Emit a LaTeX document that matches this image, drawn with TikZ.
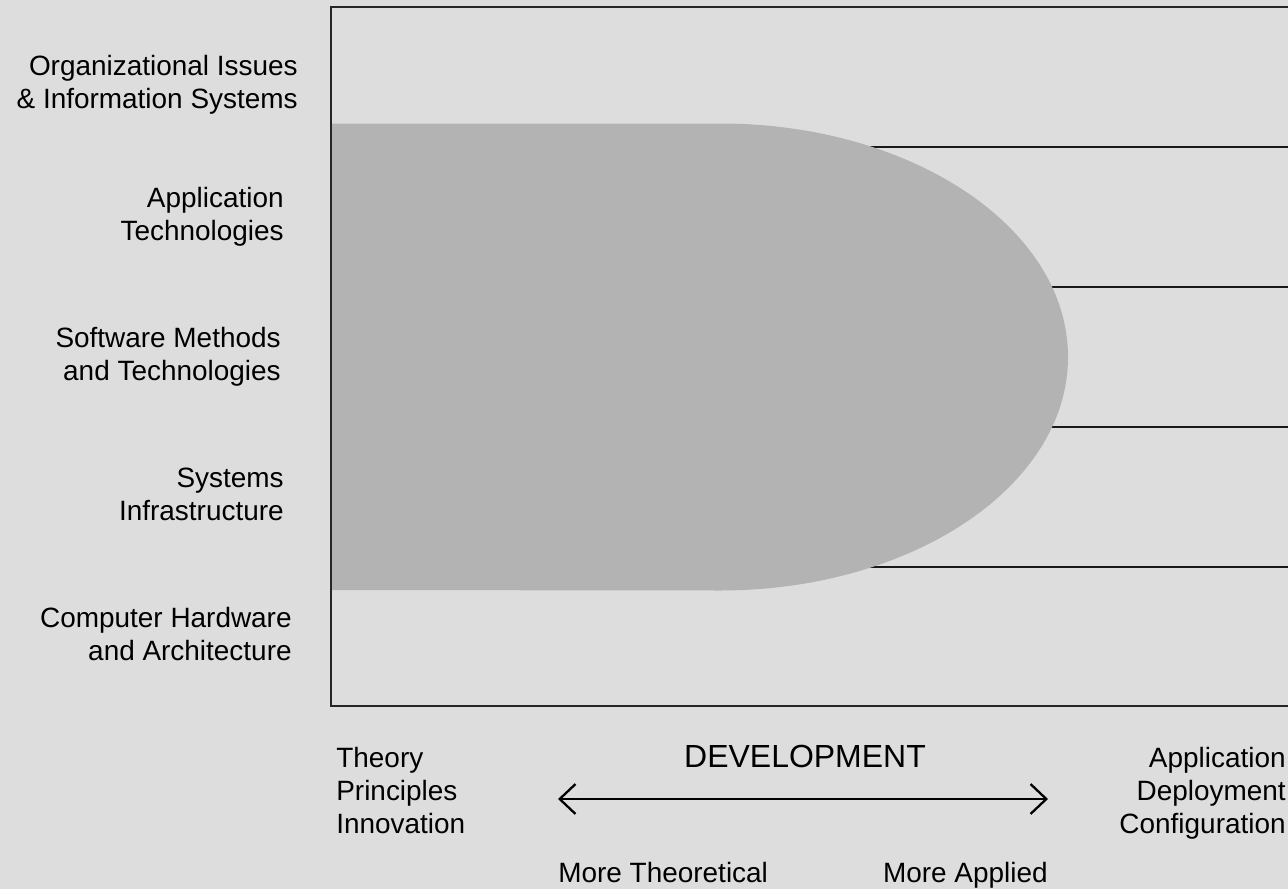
\documentclass[tikz,border=0pt]{standalone}
\usepackage{fontspec}
\setmainfont{Liberation Sans}
\usetikzlibrary{arrows.meta}
\definecolor{bg}{RGB}{221,221,221}
\definecolor{blob}{RGB}{179,179,179}
\tikzset{
  lbl/.style={inner sep=0pt, font=\fontsize{15.9}{18.6}\selectfont},
  rowline/.style={line width=0.85pt, color=black!90},
}

\begin{document}
\begin{tikzpicture}[x=0.02cm,y=-0.02cm]
\useasboundingbox[fill=bg] (0,0) rectangle (1288,889);

% frame corners
\coordinate (A) at (1288,7);
\coordinate (B) at (331,7);
\coordinate (C) at (331,706);
\coordinate (D) at (1288,706);

% row separators, drawn under the blob
\foreach \y in {147,287,427,567}
  \draw[rowline] (331,\y) -- (1288,\y);

% the grey blob
\fill[blob] (331,123.5) -- (720,123.5)
  arc[start angle=-90, end angle=90, x radius=348, y radius=233.5]
  -- (331,590) -- cycle;

\draw[line width=1.1pt, color=black!85] (A) -- (B) -- (C) -- (D);

% row labels (base = last line)
\node[lbl, align=right, anchor=base east] (org) at (298,108) {Organizational Issues\\ \& Information Systems};
\node[lbl, align=right, anchor=base east] (app) at (284,240) {Application\\ Technologies};
\node[lbl, align=right, anchor=base east] (soft) at (281,380) {Software Methods\\ and Technologies};
\node[lbl, align=right, anchor=base east] (sys) at (284,520) {Systems\\ Infrastructure};
\node[lbl, align=right, anchor=base east] (hw) at (292,660) {Computer Hardware\\ and Architecture};

% axis below
\node[lbl, align=left, anchor=base west] (theo) at (336,833) {Theory\\ Principles\\ Innovation};
\node[lbl, align=right, anchor=base east] (appl) at (1286,833) {Application\\ Deployment\\ Configuration};
\node[lbl, font=\fontsize{18.2}{21}\selectfont, anchor=base] (dev) at (805,767) {DEVELOPMENT};

\coordinate (L) at (558,799);
\coordinate (R) at (1048,799);
\draw[line width=1.3pt, {Straight Barb[length=9pt, width=17pt]}-{Straight Barb[length=9pt, width=17pt]}] (L) -- (R);

\node[lbl, anchor=base west] (mth) at (558,882) {More Theoretical};
\node[lbl, anchor=base east] (map) at (1048,882) {More Applied};
\end{tikzpicture}
\end{document}
